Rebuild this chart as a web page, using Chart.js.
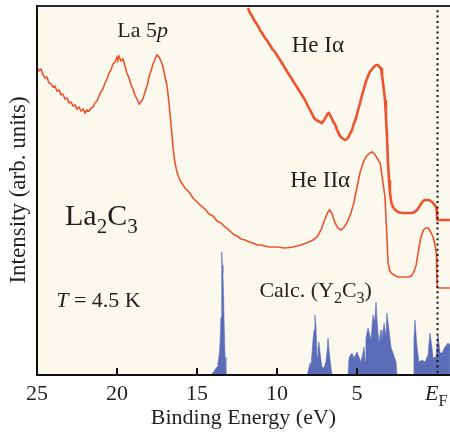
<!DOCTYPE html>
<html>
<head>
<meta charset="utf-8">
<script src="https://cdn.jsdelivr.net/npm/chart.js@4"></script>
<style>
  html, body { margin: 0; padding: 0; background: #fff; }
  canvas { display: block; }
</style>
</head>
<body>
<canvas id="grafic" width="450" height="438"></canvas>
<script>
// [binding energy (eV), intensity (arb.)]
const heII = [
  [25.00,308],[24.88,304],[24.75,306],[24.62,300],[24.50,297],[24.38,298],[24.25,292],[24.12,291],
  [24.00,288],[23.88,289],[23.75,284],[23.62,285],[23.50,280],[23.38,281],[23.25,276],[23.12,277],
  [23.00,272],[22.88,273],[22.75,269],[22.62,270],[22.50,266],[22.38,268],[22.25,264],[22.12,266],
  [22.00,262],[21.88,265],[21.75,264],[21.62,267],[21.50,268],[21.38,272],[21.25,274],[21.12,279],
  [21.00,283],[20.88,286],[20.75,292],[20.62,296],[20.50,302],[20.38,305],[20.25,311],[20.12,313],
  [20.00,318],[19.94,316],[19.88,319],[19.75,314],[19.62,316],[19.50,309],[19.38,302],[19.25,297],
  [19.12,290],[19.00,286],[18.88,280],[18.75,276],[18.62,271],[18.50,273],[18.38,276],[18.25,283],
  [18.12,289],[18.00,298],[17.88,304],[17.75,311],[17.62,316],[17.50,320],[17.38,318],[17.25,314],
  [17.12,308],[17.00,298],[16.88,290],[16.75,272],[16.62,250],[16.50,228],[16.38,212],[16.25,203],
  [16.12,197],[16.00,193],[15.75,187],[15.50,183],[15.25,177],[15.00,173],[14.75,169],[14.50,166],
  [14.25,161],[14.00,159],[13.75,154],[13.50,152],[13.25,148],[13.00,145],[12.75,141],[12.50,139],
  [12.25,136],[12.00,135],[11.75,133],[11.50,132],[11.25,130],[11.00,130],[10.50,128],[10.00,128],
  [9.50,127],[9.00,128],[8.50,130],[8.00,133],[7.75,135],[7.50,138],[7.25,145],[7.00,156],
  [6.85,162],[6.70,165],[6.55,161],[6.40,153],[6.20,147],[6.00,145],[5.80,148],[5.60,153],
  [5.40,161],[5.20,172],[5.00,188],[4.80,203],[4.60,213],[4.40,219],[4.20,222],[4.05,223],
  [3.90,221],[3.75,217],[3.55,212],[3.40,195],[3.25,178],[3.15,145],[3.06,112],[2.95,104],
  [2.80,101],[2.60,99],[2.40,98],[2.20,98],[2.00,98],[1.80,98],[1.60,99],[1.45,103],
  [1.30,110],[1.20,120],[1.10,130],[1.00,138],[0.85,145],[0.70,147],[0.55,147],[0.40,143],
  [0.25,138],[0.12,130],[0.04,122],[0.01,100],[-0.02,87],[-0.81,87]
];

const heI = [
  [11.81,367],[11.69,362],[11.56,359],[11.44,355],[11.31,352],[11.19,349],[11.06,345],[10.94,342],
  [10.75,337],[10.60,334],[10.44,330],[10.30,326],[10.13,323],[9.97,319],[9.81,315],[9.65,311],
  [9.50,307],[9.35,303],[9.19,299],[9.03,295],[8.88,291],[8.72,287],[8.56,283],[8.40,279],
  [8.25,275],[8.10,270],[7.94,265],[7.80,261],[7.69,257],[7.55,255],[7.44,254],[7.30,253],
  [7.19,252],[7.05,255],[6.94,258],[6.85,261],[6.75,262],[6.65,259],[6.56,256],[6.45,252],
  [6.38,251],[6.25,245],[6.19,243],[6.05,239],[5.94,237],[5.85,236],[5.75,235],[5.65,236],
  [5.56,237],[5.45,241],[5.31,245],[5.20,251],[5.06,257],[4.95,264],[4.81,272],[4.70,279],
  [4.56,287],[4.45,293],[4.31,299],[4.20,303],[4.06,306],[3.95,308],[3.88,309],[3.78,310],
  [3.69,310],[3.60,308],[3.50,307],[3.44,300],[3.38,293],[3.32,285],[3.25,275],[3.19,258],
  [3.13,240],[3.06,212],[3.00,195],[2.94,182],[2.85,172],[2.75,168],[2.60,165],[2.44,163],
  [2.20,162],[2.00,162],[1.80,162],[1.56,162],[1.40,163],[1.25,165],[1.12,168],[1.00,171],
  [0.88,174],[0.75,175],[0.62,175],[0.50,175],[0.40,174],[0.31,173],[0.20,171],[0.13,170],
  [0.05,167],[0.01,163],[-0.02,155],[-0.81,155]
];

// calculated DOS of Y2C3
const calcDos = [
  [14.40,0],[14.19,0],[14.00,2],[13.88,5],[13.75,8],[13.69,12],[13.60,22],[13.56,32],
  [13.50,58],[13.47,90],[13.44,123],[13.41,110],[13.38,102],[13.34,80],[13.31,55],[13.25,18],
  [13.19,0],
  [8.10,0],[7.94,12],[7.88,9],[7.81,22],[7.75,35],[7.68,45],[7.63,60],[7.56,48],[7.50,18],
  [7.44,26],[7.38,33],[7.31,22],[7.19,8],[7.06,7],[6.94,14],[6.88,22],[6.81,37],[6.75,25],
  [6.63,8],[6.56,0],
  [5.56,0],[5.50,17],[5.40,20],[5.31,22],[5.19,17],[5.06,21],[5.00,23],[4.88,18],[4.75,13],
  [4.63,22],[4.56,28],[4.50,14],[4.44,37],[4.31,47],[4.20,40],[4.13,35],[4.00,60],[3.90,52],
  [3.81,73],[3.75,55],[3.63,32],[3.50,45],[3.44,32],[3.31,52],[3.19,38],[3.13,62],[3.00,45],
  [2.88,28],[2.75,22],[2.56,13],[2.50,0],
  [1.50,0],[1.44,35],[1.38,55],[1.31,40],[1.25,28],[1.13,13],[0.94,15],[0.75,13],[0.56,20],
  [0.44,42],[0.31,27],[0.25,17],[0.06,18],[-0.06,40],[-0.19,22],[-0.31,22],[-0.50,28],
  [-0.69,32],[-0.81,30]
];

const xTicks = [25, 20, 15, 10, 5, 0];
const xTickLabels = ['25', '20', '15', '10', '5', ''];

const serif = '"Liberation Serif", "DejaVu Serif", serif';
const inkColor = '#231f20';

function punts(arr) {
  return arr.map(p => ({ x: p[0], y: p[1] }));
}

// draws a piece of text made of runs (for subscripts / italics)
function textRuns(ctx, x, y, runs, align) {
  let total = 0;
  runs.forEach(r => { ctx.font = r.f; total += ctx.measureText(r.t).width; });
  let cx = align === 'center' ? x - total / 2 : x;
  runs.forEach(r => {
    ctx.font = r.f;
    ctx.fillText(r.t, cx, y + (r.dy || 0));
    cx += ctx.measureText(r.t).width;
  });
}

const decoracio = {
  id: 'decoracio',
  beforeDraw(chart) {
    const { ctx, chartArea: a } = chart;
    ctx.save();
    ctx.fillStyle = '#fbf8ee';
    ctx.fillRect(a.left, a.top, a.right - a.left, a.bottom - a.top);
    ctx.restore();
  },
  afterDatasetsDraw(chart) {
    const { ctx, chartArea: a, scales: { x } } = chart;
    ctx.save();
    // Fermi level
    const xf = Math.round(x.getPixelForValue(0)) + 0.5;
    ctx.strokeStyle = '#111';
    ctx.lineWidth = 2;
    ctx.setLineDash([2, 3.3]);
    ctx.beginPath();
    ctx.moveTo(xf, a.top);
    ctx.lineTo(xf, a.bottom);
    ctx.stroke();
    ctx.setLineDash([]);
    // frame
    ctx.strokeStyle = '#2a2a2a';
    ctx.beginPath();
    ctx.moveTo(a.left, a.top + 1);
    ctx.lineTo(a.right, a.top + 1);
    ctx.stroke();
    ctx.strokeStyle = '#111';
    ctx.beginPath();
    ctx.moveTo(a.left, a.top);
    ctx.lineTo(a.left, a.bottom);
    ctx.lineTo(a.right, a.bottom);
    ctx.stroke();
    // inner ticks
    [20, 15, 10, 5].forEach(v => {
      const px = x.getPixelForValue(v);
      ctx.beginPath();
      ctx.moveTo(px, a.bottom);
      ctx.lineTo(px, a.bottom - 7);
      ctx.stroke();
    });
    ctx.restore();
  },
  afterDraw(chart) {
    const { ctx, scales: { x, y }, chartArea: a } = chart;
    const X = v => x.getPixelForValue(v);
    const Y = v => y.getPixelForValue(v);
    const f = s => s + 'px ' + serif;
    const fi = s => 'italic ' + s + 'px ' + serif;
    ctx.save();
    ctx.fillStyle = inkColor;
    ctx.textBaseline = 'alphabetic';
    ctx.textAlign = 'left';
    textRuns(ctx, X(18.4), Y(338), [{ t: 'La 5', f: f(22) }, { t: 'p', f: fi(22) }], 'center');
    textRuns(ctx, X(7.45), Y(323), [{ t: 'He I\u03b1', f: f(23) }], 'center');
    textRuns(ctx, X(7.3), Y(188), [{ t: 'He II\u03b1', f: f(23) }], 'center');
    textRuns(ctx, X(23.25), Y(150), [
      { t: 'La', f: f(30) }, { t: '2', f: f(21), dy: 8 },
      { t: 'C', f: f(30) }, { t: '3', f: f(21), dy: 8 }
    ], 'left');
    textRuns(ctx, X(23.8), Y(68), [{ t: 'T', f: fi(22) }, { t: ' = 4.5 K', f: f(22) }], 'left');
    textRuns(ctx, X(11.1), Y(78), [
      { t: 'Calc. (Y', f: f(22) }, { t: '2', f: f(16), dy: 6 },
      { t: 'C', f: f(22) }, { t: '3', f: f(16), dy: 6 }, { t: ')', f: f(22) }
    ], 'left');
    // E_F tick label
    textRuns(ctx, X(0) - 12, a.bottom + 25, [{ t: 'E', f: fi(22) }, { t: 'F', f: f(16), dy: 6 }], 'left');
    ctx.restore();
  }
};

new Chart(document.getElementById('grafic'), {
  type: 'line',
  data: {
    datasets: [
      {
        label: 'He I\u03b1',
        data: punts(heI),
        borderColor: '#ee5330',
        borderWidth: 2.6,
        pointRadius: 0,
        tension: 0,
        fill: false,
        order: 1
      },
      {
        label: 'He II\u03b1',
        data: punts(heII),
        borderColor: '#ee5330',
        borderWidth: 1.6,
        pointRadius: 0,
        tension: 0,
        fill: false,
        order: 2
      },
      {
        label: 'Calc. (Y2C3)',
        data: punts(calcDos),
        borderColor: '#5b6db8',
        backgroundColor: '#5b6db8',
        borderWidth: 0.6,
        pointRadius: 0,
        tension: 0,
        fill: 'origin',
        order: 3
      }
    ]
  },
  plugins: [decoracio],
  options: {
    responsive: false,
    animation: false,
    devicePixelRatio: 1,
    layout: { padding: { top: 5, right: 0, left: 0, bottom: 0 } },
    plugins: { legend: { display: false }, tooltip: { enabled: false } },
    scales: {
      x: {
        type: 'linear',
        reverse: true,
        min: -0.8125,
        max: 25,
        afterBuildTicks: s => { s.ticks = xTicks.map(v => ({ value: v })); },
        afterFit: s => { s.height = 63; },
        grid: { display: false },
        border: { display: false },
        ticks: {
          color: inkColor,
          font: { family: serif, size: 22 },
          padding: -2,
          maxRotation: 0,
          autoSkip: false,
          callback: (v) => xTickLabels[xTicks.indexOf(v)] ?? ''
        },
        title: {
          display: true,
          text: 'Binding Energy (eV)',
          color: inkColor,
          font: { family: serif, size: 22 },
          padding: { top: 0, bottom: 7 }
        }
      },
      y: {
        min: 0,
        max: 370,
        afterFit: s => { s.width = 37; },
        grid: { display: false },
        border: { display: false },
        ticks: { display: false },
        title: {
          display: true,
          text: 'Intensity (arb. units)',
          color: inkColor,
          font: { family: serif, size: 23 },
          padding: { top: 5, bottom: 0 }
        }
      }
    }
  }
});
</script>
</body>
</html>
